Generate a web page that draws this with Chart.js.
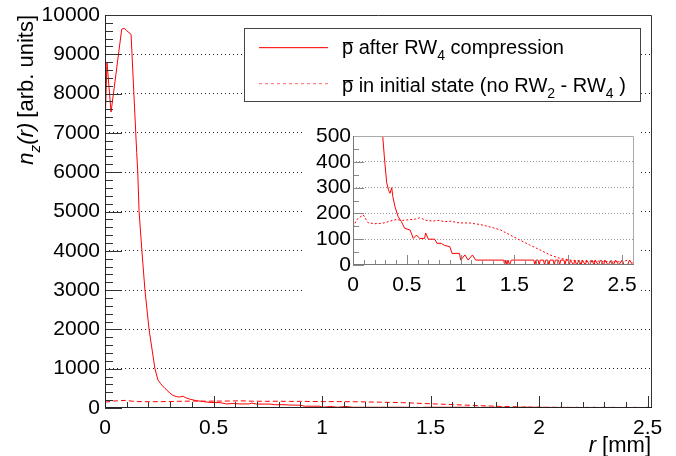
<!DOCTYPE html>
<html>
<head>
<meta charset="utf-8">
<script src="https://cdn.jsdelivr.net/npm/chart.js@4.4.1/dist/chart.umd.min.js"></script>
<style>
  html, body { margin: 0; padding: 0; background: #fff; }
  #wrap { position: relative; width: 676px; height: 456px; }
  #main { position: absolute; left: 0; top: 0; }
  #inset { position: absolute; left: 303px; top: 118px; background: #fff; }
</style>
</head>
<body>
<div id="wrap">
  <canvas id="main" width="676" height="456"></canvas>
  <canvas id="inset" width="337" height="182"></canvas>
</div>
<script>
const FONT = '"Liberation Sans", Arial, sans-serif';

// pbar after RW4 compression (solid)
const rAfter = [0, 0.009, 0.028, 0.077, 0.09, 0.1, 0.12, 0.146, 0.151, 0.157, 0.170, 0.184, 0.203, 0.230, 0.244,
  0.255, 0.265, 0.276, 0.295, 0.313, 0.33, 0.344, 0.36, 0.37, 0.39, 0.42, 0.45, 0.48, 0.53, 0.56, 0.59, 0.62,
  0.665, 0.675, 0.70, 0.76, 0.78, 0.82, 0.85, 0.90, 0.92, 0.99, 1.0, 1.04, 1.07, 1.11, 1.14,
  1.40, 1.41, 1.42, 1.43, 1.44, 1.455, 1.47, 1.68, 1.69, 1.70, 1.72, 1.73, 1.74, 1.77, 1.78, 1.79, 1.81, 1.82,
  1.83, 1.86, 1.87, 1.88, 1.91, 1.92, 1.93, 1.96, 1.97, 1.98, 2.00, 2.01, 2.02, 2.05, 2.06, 2.08, 2.10, 2.12,
  2.13, 2.16, 2.17, 2.20, 2.22, 2.24, 2.25, 2.28, 2.30, 2.33, 2.34, 2.37, 2.40, 2.42, 2.44, 2.47, 2.50, 2.52,
  2.55, 2.57, 2.60];
const nAfter = [7150, 8800, 7530, 9640, 9660, 9600, 9510, 6500, 6000, 5000, 4000, 3000, 2000, 1000, 712,
  630, 565, 500, 400, 320, 290, 278, 300, 265, 226, 187, 168, 142, 136, 103, 116, 103,
  103, 124, 100, 100, 84, 84, 76, 71, 45, 45, 19, 39, 19, 39, 19,
  19, 0, 19, 0, 19, 0, 19, 19, 0, 19, 19, 0, 19, 19, 0, 19, 19, 0,
  19, 19, 0, 19, 19, 0, 19, 19, 0, 19, 19, 0, 19, 0, 19, 0, 19, 0,
  19, 0, 19, 0, 19, 0, 19, 0, 19, 0, 19, 0, 19, 0, 19, 0, 19, 0,
  0, 19, 0];

// pbar in initial state (dashed)
const rInit = [0, 0.04, 0.095, 0.14, 0.2, 0.25, 0.3, 0.34, 0.40, 0.46, 0.53, 0.58, 0.62, 0.68, 0.74, 0.80, 0.85,
  0.90, 0.99, 1.08, 1.18, 1.27, 1.37, 1.46, 1.55, 1.64, 1.74, 1.83, 1.92, 2.02, 2.11, 2.2, 2.28, 2.36,
  2.44, 2.51, 2.56, 2.6];
const nInit = [148, 178, 194, 164, 160, 161, 164, 170, 176, 173, 176, 178, 183, 173, 170, 173, 168,
  170, 163, 163, 157, 148, 136, 116, 97, 78, 58, 39, 26, 19, 16, 13, 15, 13,
  12, 13, 20, 8];

const xTicks = [0, 0.5, 1, 1.5, 2, 2.5];
const yTicks = [0, 1000, 2000, 3000, 4000, 5000, 6000, 7000, 8000, 9000, 10000];
const yTicksInset = [0, 100, 200, 300, 400, 500];

const ptsAfter = rAfter.map((r, i) => ({ x: r, y: nAfter[i] }));
const ptsInit = rInit.map((r, i) => ({ x: r, y: nInit[i] }));

function rich(ctx, parts, x, y, size, draw) {
  let cx = x;
  for (const p of parts) {
    const fs = p.sub ? size * 0.7 : size;
    ctx.font = (p.it ? 'italic ' : '') + fs + 'px ' + FONT;
    const w = ctx.measureText(p.t).width;
    if (draw) {
      ctx.fillText(p.t, cx, y + (p.sub ? size * 0.3 : 0));
      if (p.over) ctx.fillRect(cx + 1, y - size * 0.6, w - 1, 1.2);
    }
    cx += w + (p.gap || 0);
  }
  return cx - x;
}

function drawFrame(chart, o) {
  const { ctx, chartArea: a, scales: { x, y } } = chart;
  ctx.save();
  ctx.lineWidth = 1;
  // minor + major ticks, pointing inward
  ctx.strokeStyle = o.tickColor;
  ctx.beginPath();
  for (let i = 0; i * 0.1 <= x.max + 1e-9; i++) {
    const px = Math.round(x.getPixelForValue(i / 10)) + 0.5;
    const len = (i % 5 === 0) ? o.xMajor : o.xMinor;
    ctx.moveTo(px, a.bottom);
    ctx.lineTo(px, a.bottom - len);
  }
  for (let v = 0; v <= y.max + 1e-9; v += o.yMinorStep) {
    const py = Math.round(y.getPixelForValue(v)) + 0.5;
    const len = (v % o.yMajorStep === 0) ? o.yMajor : o.yMinor;
    ctx.moveTo(a.left, py);
    ctx.lineTo(a.left + len, py);
  }
  ctx.stroke();
  // top / right border
  ctx.strokeStyle = o.boxColor;
  ctx.beginPath();
  ctx.moveTo(a.left, a.top + 0.5);
  ctx.lineTo(a.right - 0.5, a.top + 0.5);
  ctx.lineTo(a.right - 0.5, a.bottom);
  ctx.stroke();
  // axes
  ctx.strokeStyle = o.axisColor;
  ctx.beginPath();
  ctx.moveTo(a.left + 0.5, a.top);
  ctx.lineTo(a.left + 0.5, a.bottom - 0.5);
  ctx.lineTo(a.right, a.bottom - 0.5);
  ctx.stroke();
  ctx.restore();
}

const mainDecor = {
  id: 'mainDecor',
  afterDraw(chart) {
    drawFrame(chart, { tickColor: '#333', boxColor: '#333', axisColor: '#222',
      xMajor: 12, xMinor: 6, yMajor: 17, yMinor: 8, yMajorStep: 1000, yMinorStep: 200 });
    const ctx = chart.ctx;
    ctx.save();
    ctx.fillStyle = '#000';
    ctx.textBaseline = 'alphabetic';
    // y title
    const yTitle = [{ t: 'n', it: true }, { t: 'z', it: true, sub: true }, { t: '(r)', it: true, gap: 5 }, { t: '[arb. units]' }];
    const wy = rich(ctx, yTitle, 0, 0, 22, false);
    ctx.save();
    ctx.translate(33, 15 + wy);
    ctx.rotate(-Math.PI / 2);
    rich(ctx, yTitle, 0, 0, 22, true);
    ctx.restore();
    // x title
    const xTitle = [{ t: 'r', it: true, gap: 6 }, { t: '[mm]' }];
    const wx = rich(ctx, xTitle, 0, 0, 22, false);
    rich(ctx, xTitle, 651 - wx, 452, 22, true);
    // legend
    ctx.fillStyle = '#fff';
    ctx.fillRect(244, 28, 397, 74);
    ctx.strokeStyle = '#444';
    ctx.lineWidth = 1;
    ctx.strokeRect(244.5, 28.5, 396, 73);
    ctx.fillStyle = '#ff2020';
    ctx.fillRect(259, 47, 69, 1.2);
    ctx.fillStyle = '#ff8080';
    for (let sx = 259; sx < 328; sx += 6) ctx.fillRect(sx, 83, 3, 1.2);
    ctx.fillStyle = '#000';
    rich(ctx, [{ t: 'p', over: true }, { t: ' after RW' }, { t: '4', sub: true }, { t: ' compression' }], 342, 54, 20, true);
    rich(ctx, [{ t: 'p', over: true }, { t: ' in initial state (no RW' }, { t: '2', sub: true }, { t: ' - RW' },
      { t: '4', sub: true }, { t: ' )' }], 342, 92, 20, true);
    ctx.restore();
  }
};

const insetDecor = {
  id: 'insetDecor',
  afterDraw(chart) {
    drawFrame(chart, { tickColor: '#888', boxColor: '#aaa', axisColor: '#777',
      xMajor: 10, xMinor: 5, yMajor: 11, yMinor: 6, yMajorStep: 100, yMinorStep: 50 });
  }
};

function lineSets(dash) {
  return [
    { data: ptsAfter, showLine: true, borderColor: '#ff0000', borderWidth: 1, pointRadius: 0, tension: 0 },
    { data: ptsInit, showLine: true, borderColor: '#ff0000', borderWidth: 1, borderDash: dash, pointRadius: 0, tension: 0 }
  ];
}

function tickFont() {
  return { family: FONT, size: 21 };
}

new Chart(document.getElementById('main'), {
  type: 'scatter',
  data: { datasets: lineSets([5, 3]) },
  options: {
    responsive: false, animation: false, devicePixelRatio: 1,
    layout: { padding: { left: 0, top: 15, right: 24, bottom: 0 } },
    plugins: { legend: { display: false }, tooltip: { enabled: false } },
    scales: {
      x: {
        type: 'linear', min: 0, max: 2.52,
        afterBuildTicks: s => { s.ticks = xTicks.map(v => ({ value: v })); },
        afterFit: s => { s.height = 48; s.paddingLeft = 0; s.paddingRight = 0; },
        grid: { display: false }, border: { display: false },
        ticks: { font: tickFont(), color: '#000', padding: 0, maxRotation: 0, autoSkip: false, callback: v => String(v) }
      },
      y: {
        type: 'linear', min: 0, max: 10000,
        afterBuildTicks: s => { s.ticks = yTicks.map(v => ({ value: v })); },
        afterFit: s => { s.width = 105; s.paddingTop = 0; s.paddingBottom = 0; },
        grid: { drawTicks: false, lineWidth: 1,
          color: c => (c.tick && (c.tick.value === 0 || c.tick.value === 10000)) ? 'rgba(0,0,0,0)' : '#222' },
        border: { display: false, dash: [1, 3] },
        ticks: { font: tickFont(), color: '#000', padding: 5, autoSkip: false, callback: v => String(v) }
      }
    }
  },
  plugins: [mainDecor]
});

new Chart(document.getElementById('inset'), {
  type: 'scatter',
  data: { datasets: lineSets([2, 2]) },
  options: {
    responsive: false, animation: false, devicePixelRatio: 1,
    layout: { padding: { left: 0, top: 18, right: 6, bottom: 0 } },
    plugins: { legend: { display: false }, tooltip: { enabled: false } },
    scales: {
      x: {
        type: 'linear', min: 0, max: 2.611,
        afterBuildTicks: s => { s.ticks = xTicks.map(v => ({ value: v })); },
        afterFit: s => { s.height = 35; s.paddingLeft = 0; s.paddingRight = 0; },
        grid: { display: false }, border: { display: false },
        ticks: { font: tickFont(), color: '#000', padding: 0, maxRotation: 0, autoSkip: false, callback: v => String(v) }
      },
      y: {
        type: 'linear', min: 0, max: 500,
        afterBuildTicks: s => { s.ticks = yTicksInset.map(v => ({ value: v })); },
        afterFit: s => { s.width = 50; s.paddingTop = 0; s.paddingBottom = 0; },
        grid: { drawTicks: false, lineWidth: 1,
          color: c => (c.tick && (c.tick.value === 0 || c.tick.value === 500)) ? 'rgba(0,0,0,0)' : '#999' },
        border: { display: false, dash: [1, 2] },
        ticks: { font: tickFont(), color: '#000', padding: 2, autoSkip: false, callback: v => String(v) }
      }
    }
  },
  plugins: [insetDecor]
});
</script>
</body>
</html>
